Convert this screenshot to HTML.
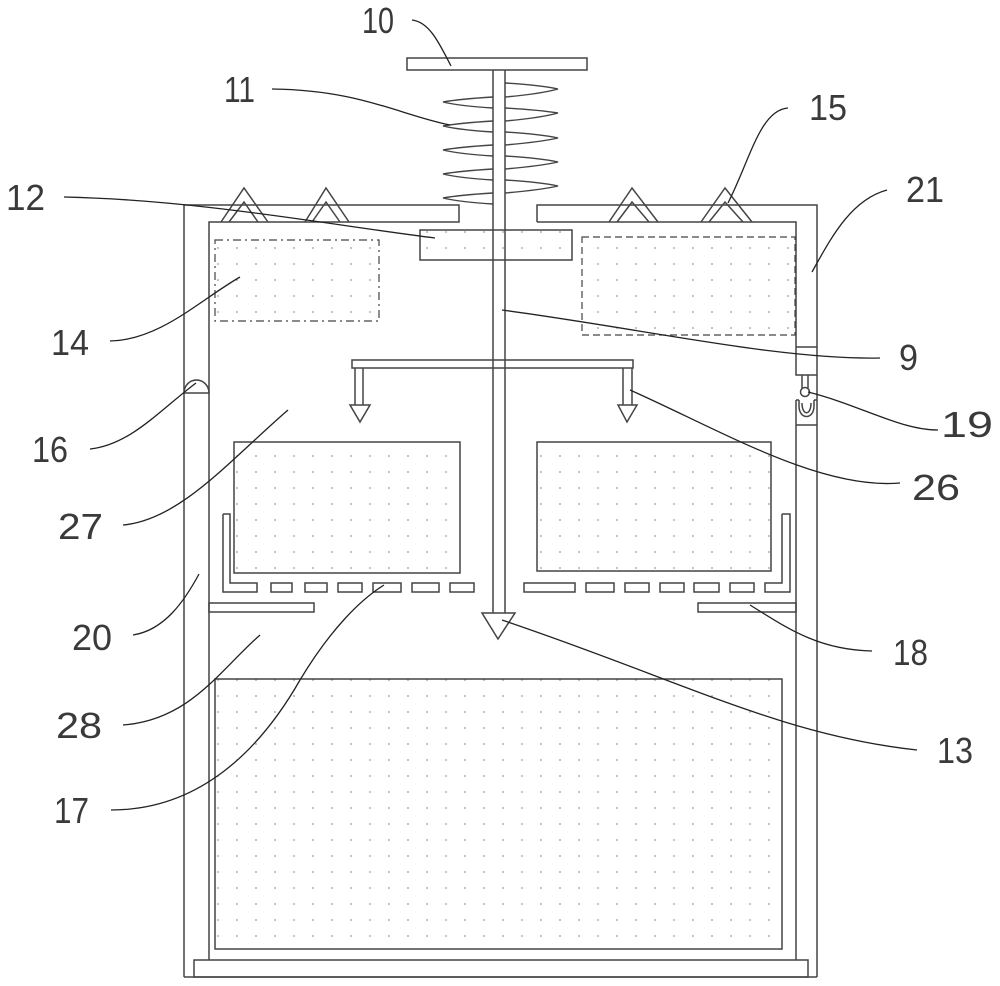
<!DOCTYPE html>
<html><head><meta charset="utf-8"><style>
html,body{margin:0;padding:0;background:#fff;}
svg{display:block;}
text{font-family:"Liberation Sans",sans-serif;font-size:36px;fill:#3a3a3a;}
</style></head><body>
<svg width="1000" height="986" viewBox="0 0 1000 986" xmlns="http://www.w3.org/2000/svg">
<defs>
<pattern id="dots" x="0" y="0" width="19" height="16" patternUnits="userSpaceOnUse">
<circle cx="9" cy="8" r="0.9" fill="#999"/>
</pattern>
</defs>
<g fill="none" stroke="#444" stroke-width="1.5">
<rect x="407" y="58" width="180" height="12"/>
<line x1="493" y1="70" x2="493" y2="613"/>
<line x1="505" y1="70" x2="505" y2="613"/>
<polygon points="482,613 515,613 498,639"/>
<!-- spring -->
<path d="M505,83 Q540,85 558,89 Q540,94 505,97
M493,97 Q460,99 443,102 Q460,106 493,108
M505,108 Q540,110 558,113 Q540,118 505,121
M493,121 Q460,123 443,126 Q460,130 493,132
M505,132 Q540,134 558,138 Q540,142 505,145
M493,145 Q460,147 443,150 Q460,154 493,156
M505,156 Q540,158 558,162 Q540,166 505,169
M493,169 Q460,171 443,174 Q460,178 493,180
M505,180 Q540,182 558,186 Q540,190 505,193
M493,193 Q460,195 443,198 Q460,202 493,204" stroke-width="1.4"/>
<polyline points="184,977 184,205 459,205 459,222 209,222 209,960"/>
<polyline points="537,222 537,205 817,205 817,977"/>
<polyline points="537,222 796,222 796,347"/>
<polyline points="221,222 244,188 268,222"/>
<polyline points="229,222 244,202 258,222"/>
<polyline points="305,222 326,188 349,222"/>
<polyline points="312,222 326,202 340,222"/>
<polyline points="609,222 632,188 658,222"/>
<polyline points="617,222 632,202 649,222"/>
<polyline points="701,222 725,188 752,222"/>
<polyline points="709,222 725,202 743,222"/>
<rect x="420" y="230" width="152" height="30" fill="url(#dots)"/>
<rect x="215" y="240" width="164" height="81" stroke-dasharray="8,4,2,4" fill="url(#dots)" stroke-width="1.2"/>
<rect x="582" y="237" width="213" height="98" stroke-dasharray="7,4" fill="url(#dots)" stroke-width="1.2"/>
<rect x="352" y="360" width="281" height="8" fill="#fff"/>
<line x1="493" y1="360" x2="493" y2="368"/><line x1="505" y1="360" x2="505" y2="368"/>
<line x1="355" y1="368" x2="355" y2="405"/><line x1="363" y1="368" x2="363" y2="405"/>
<polygon points="350,405 370,405 360,422"/>
<line x1="623" y1="368" x2="623" y2="405"/><line x1="632" y1="368" x2="632" y2="405"/>
<polygon points="618,405 637,405 627,422"/>
<line x1="796" y1="347" x2="817" y2="347"/>
<polyline points="796,347 796,375 817,375"/>
<line x1="802" y1="375" x2="802" y2="388"/><line x1="808" y1="375" x2="808" y2="388"/>
<circle cx="805" cy="392" r="4.5"/>
<polyline points="796,400 796,960"/>
<line x1="796" y1="400" x2="799" y2="400"/>
<line x1="814" y1="400" x2="817" y2="400"/>
<path d="M799,400 L799,406 C799,420 814,420 814,406 L814,400"/>
<path d="M802,403 C802,416 811,416 811,403"/>
<line x1="796" y1="425" x2="817" y2="425"/>
<path d="M184,393 A12.5,13 0 0 1 209,393 Z"/>
<rect x="234" y="442" width="226" height="131" fill="url(#dots)"/>
<rect x="537" y="442" width="234" height="129" fill="url(#dots)"/>
<polyline points="223,514 230,514 230,583 257,583 257,592 223,592 223,514"/>
<rect x="271" y="583" width="21" height="9"/>
<rect x="305" y="583" width="22" height="9"/>
<rect x="338" y="583" width="24" height="9"/>
<rect x="373" y="583" width="28" height="9"/>
<rect x="412" y="583" width="27" height="9"/>
<rect x="450" y="583" width="24" height="9"/>
<rect x="524" y="583" width="51" height="9"/>
<rect x="586" y="583" width="28" height="9"/>
<rect x="625" y="583" width="24" height="9"/>
<rect x="660" y="583" width="24" height="9"/>
<rect x="694" y="583" width="25" height="9"/>
<rect x="730" y="583" width="24" height="9"/>
<polyline points="782,514 790,514 790,592 765,592 765,583 782,583 782,514"/>
<rect x="209" y="603" width="105" height="9"/>
<rect x="698" y="603" width="98" height="9"/>
<rect x="215" y="679" width="567" height="270" fill="url(#dots)"/>
<rect x="194" y="960" width="614" height="17"/>
<line x1="184" y1="977" x2="817" y2="977"/>
</g>
<g fill="none" stroke="#222" stroke-width="1.3">
<path d="M412,20 C430,22 440,45 451,66"/>
<path d="M272,89 C360,90 400,115 450,125"/>
<path d="M64,197 C200,200 330,225 435,238"/>
<path d="M788,108 C760,110 750,160 728,203"/>
<path d="M887,190 C850,200 830,240 812,272"/>
<path d="M110,341 C160,340 200,300 240,277"/>
<path d="M502,310 C650,330 780,360 880,358"/>
<path d="M90,449 C130,445 160,410 196,383"/>
<path d="M808,392 C860,405 900,430 938,430"/>
<path d="M630,390 C720,430 820,490 900,483"/>
<path d="M123,525 C180,520 230,460 288,410"/>
<path d="M133,635 C165,630 185,600 199,574"/>
<path d="M872,651 C820,650 790,630 750,605"/>
<path d="M123,725 C190,720 220,670 260,635"/>
<path d="M917,750 C780,735 680,680 502,620"/>
<path d="M111,810 C200,810 260,750 300,680 C330,630 360,600 384,585"/>
</g>
<g>
<text x="362" y="33" textLength="32" lengthAdjust="spacingAndGlyphs">10</text>
<text x="224" y="102" textLength="31" lengthAdjust="spacingAndGlyphs">11</text>
<text x="6" y="210" textLength="39" lengthAdjust="spacingAndGlyphs">12</text>
<text x="809" y="120" textLength="38" lengthAdjust="spacingAndGlyphs">15</text>
<text x="906" y="202" textLength="38" lengthAdjust="spacingAndGlyphs">21</text>
<text x="51" y="355" textLength="38" lengthAdjust="spacingAndGlyphs">14</text>
<text x="899" y="370" textLength="19" lengthAdjust="spacingAndGlyphs">9</text>
<text x="32" y="462" textLength="36" lengthAdjust="spacingAndGlyphs">16</text>
<text x="941" y="437" textLength="52" lengthAdjust="spacingAndGlyphs">19</text>
<text x="912" y="500" textLength="48" lengthAdjust="spacingAndGlyphs">26</text>
<text x="58" y="539" textLength="45" lengthAdjust="spacingAndGlyphs">27</text>
<text x="72" y="650" textLength="40" lengthAdjust="spacingAndGlyphs">20</text>
<text x="893" y="665" textLength="35" lengthAdjust="spacingAndGlyphs">18</text>
<text x="56" y="738" textLength="46" lengthAdjust="spacingAndGlyphs">28</text>
<text x="937" y="763" textLength="36" lengthAdjust="spacingAndGlyphs">13</text>
<text x="54" y="823" textLength="35" lengthAdjust="spacingAndGlyphs">17</text>
</g>
</svg>
</body></html>
